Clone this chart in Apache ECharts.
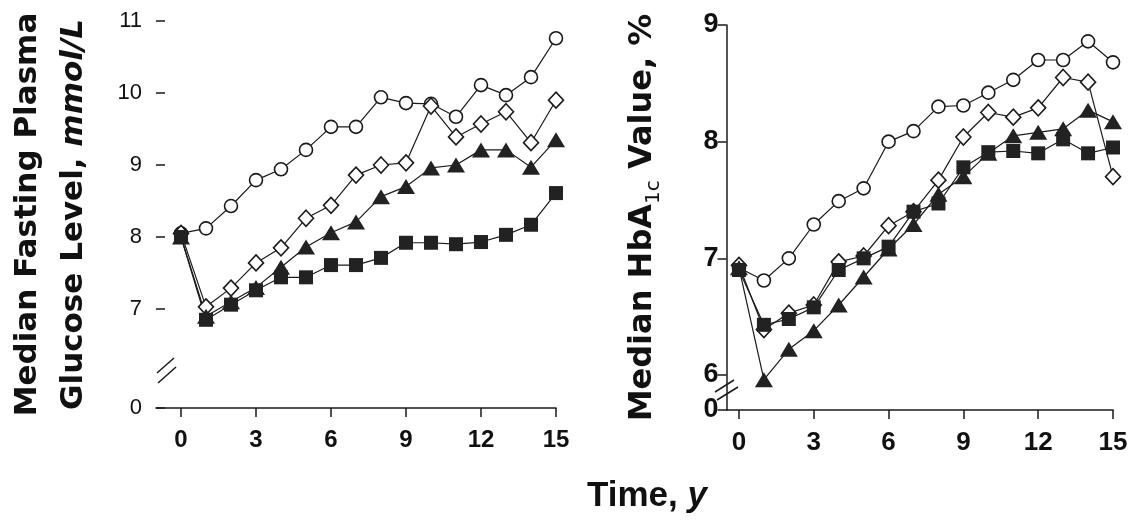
<!DOCTYPE html>
<html>
<head>
<meta charset="utf-8">
<script src="https://cdn.jsdelivr.net/npm/echarts@6/dist/echarts.min.js"></script>
<style>
  html, body { margin: 0; padding: 0; background: #fff; }
  #chart { width: 1141px; height: 525px; }
</style>
</head>
<body>
<div id="chart"></div>
<script>
// years since randomisation
var years = [0, 1, 2, 3, 4, 5, 6, 7, 8, 9, 10, 11, 12, 13, 14, 15];
var xTicks = [0, 3, 6, 9, 12, 15];

// left panel: median fasting plasma glucose, mmol/L
var glucoseCircle   = [8.05, 8.12, 8.43, 8.79, 8.94, 9.21, 9.53, 9.53, 9.94, 9.86, 9.85, 9.67, 10.11, 9.97, 10.22, 10.76];
var glucoseDiamond  = [8.05, 7.03, 7.29, 7.64, 7.85, 8.26, 8.44, 8.86, 9.0, 9.03, 9.82, 9.39, 9.57, 9.74, 9.31, 9.9];
var glucoseTriangle = [8.0, 6.9, 7.1, 7.3, 7.58, 7.86, 8.06, 8.21, 8.56, 8.7, 8.96, 9.0, 9.21, 9.21, 8.97, 9.35];
var glucoseSquare   = [8.0, 6.85, 7.06, 7.26, 7.44, 7.44, 7.61, 7.61, 7.71, 7.92, 7.92, 7.9, 7.93, 8.03, 8.17, 8.61];
var glucoseTicks = [5.625, 7, 8, 9, 10, 11];   // 5.625 is where the broken axis shows "0"

// right panel: median HbA1c, %
var hba1cCircle   = [6.92, 6.81, 7.0, 7.29, 7.49, 7.6, 8.0, 8.09, 8.3, 8.31, 8.42, 8.53, 8.7, 8.7, 8.86, 8.68];
var hba1cDiamond  = [6.94, 6.39, 6.53, 6.6, 6.97, 7.02, 7.28, 7.4, 7.67, 8.04, 8.25, 8.21, 8.29, 8.55, 8.51, 7.7];
var hba1cTriangle = [6.92, 5.96, 6.22, 6.38, 6.6, 6.84, 7.08, 7.29, 7.55, 7.7, 7.9, 8.05, 8.08, 8.11, 8.27, 8.17];
var hba1cSquare   = [6.9, 6.43, 6.48, 6.58, 6.9, 7.0, 7.1, 7.4, 7.47, 7.78, 7.91, 7.92, 7.9, 8.02, 7.9, 7.95];
var hba1cTicks = [5.7, 6, 7, 8, 9];

function pairs(vals) {
    var out = [];
    for (var i = 0; i < years.length; i++) {
        out.push([years[i], vals[i]]);
    }
    return out;
}

var ink = '#1a1a1a';
var font = 'Liberation Sans, Arial, sans-serif';
var wide = 'DejaVu Sans, Liberation Sans, sans-serif';

function mkSeries(name, vals, idx, symbol, size, filled) {
    return {
        name: name,
        type: 'line',
        xAxisIndex: idx,
        yAxisIndex: idx,
        data: pairs(vals),
        symbol: symbol,
        symbolSize: size,
        showAllSymbol: true,
        lineStyle: { color: ink, width: 1.2 },
        itemStyle: {
            color: filled ? '#222' : '#fff',
            borderColor: ink,
            borderWidth: filled ? 0 : 1.6
        },
        emphasis: { disabled: true },
        animation: false
    };
}

function xAx(idx, min, max, fs) {
    return {
        type: 'value',
        gridIndex: idx,
        min: min,
        max: max,
        splitLine: { show: false },
        axisLine: { onZero: false, lineStyle: { color: ink, width: 1.5 } },
        axisTick: { show: true, length: 9, lineStyle: { color: ink, width: 1.5 }, customValues: xTicks },
        axisLabel: { customValues: xTicks, margin: 20, fontSize: fs, fontWeight: 'bold', color: '#111', fontFamily: font }
    };
}

var chart = echarts.init(document.getElementById('chart'));

var option = {
    backgroundColor: '#fff',
    title: {
        text: '{b|Time, }{i|y}',
        left: 582,
        top: 474,
        textStyle: {
            rich: {
                b: { fontSize: 35, fontWeight: 'bold', color: '#111', fontFamily: font },
                i: { fontSize: 35, fontWeight: 'bold', fontStyle: 'italic', color: '#111', fontFamily: font }
            }
        }
    },
    grid: [
        { left: 156, top: 21, width: 400, height: 387, containLabel: false, outerBoundsMode: 'none' },
        { left: 726.5, top: 25, width: 386.5, height: 385, containLabel: false, outerBoundsMode: 'none' }
    ],
    xAxis: [
        xAx(0, -1, 15, 24),
        xAx(1, -0.5, 15, 26)
    ],
    yAxis: [
        {
            type: 'value',
            gridIndex: 0,
            min: 5.625,
            max: 11,
            splitLine: { show: false },
            axisLine: { show: false, onZero: false },
            axisTick: { show: true, inside: true, length: 9, lineStyle: { color: ink, width: 1.5 }, customValues: glucoseTicks },
            axisLabel: {
                customValues: glucoseTicks,
                margin: 14,
                fontSize: 22,
                color: '#111',
                fontFamily: font,
                formatter: function (v) { return v < 6 ? '0' : String(v); }
            },
            name: '{a|Median Fasting Plasma}\n{a|Glucose Level, }{i|mmol/L}',
            nameLocation: 'middle',
            nameGap: 59,
            nameMoveOverlap: false,
            nameTextStyle: {
                lineHeight: 46,
                rich: {
                    a: { fontSize: 31, fontWeight: 'bold', color: '#111', fontFamily: wide, lineHeight: 46 },
                    i: { fontSize: 31, fontWeight: 'bold', fontStyle: 'italic', color: '#111', fontFamily: wide, lineHeight: 46 }
                }
            }
        },
        {
            type: 'value',
            gridIndex: 1,
            min: 5.7,
            max: 9,
            splitLine: { show: false },
            axisLine: { show: true, onZero: false, lineStyle: { color: ink, width: 1.5 } },
            axisTick: { show: true, length: 9, lineStyle: { color: ink, width: 1.5 }, customValues: hba1cTicks },
            axisLabel: {
                customValues: hba1cTicks,
                margin: 8,
                fontSize: 27,
                fontWeight: 'bold',
                color: '#111',
                fontFamily: font,
                formatter: function (v) { return v < 5.9 ? '0' : String(v); }
            },
            name: '{a|Median HbA}{s|1c}{a| Value, %}',
            nameLocation: 'middle',
            nameGap: 68,
            nameMoveOverlap: false,
            nameTextStyle: {
                rich: {
                    a: { fontSize: 32, fontWeight: 'bold', color: '#111', fontFamily: wide, lineHeight: 40, verticalAlign: 'bottom' },
                    s: { fontSize: 20, color: '#111', fontFamily: wide, lineHeight: 40, verticalAlign: 'bottom', padding: [0, 0, -5, 0] }
                }
            }
        }
    ],
    series: [
        mkSeries('circle', glucoseCircle, 0, 'circle', 13, false),
        mkSeries('diamond', glucoseDiamond, 0, 'diamond', [15, 16], false),
        mkSeries('triangle', glucoseTriangle, 0, 'triangle', [18, 15], true),
        mkSeries('square', glucoseSquare, 0, 'rect', 14, true),
        mkSeries('circle', hba1cCircle, 1, 'circle', 13, false),
        mkSeries('diamond', hba1cDiamond, 1, 'diamond', [15, 16], false),
        mkSeries('triangle', hba1cTriangle, 1, 'triangle', [18, 15], true),
        mkSeries('square', hba1cSquare, 1, 'rect', 14, true)
    ],
    graphic: [
        // axis break marks
        { type: 'line', shape: { x1: 157, y1: 373, x2: 174, y2: 358 }, style: { stroke: ink, lineWidth: 1.5 } },
        { type: 'line', shape: { x1: 158, y1: 383, x2: 176, y2: 367 }, style: { stroke: ink, lineWidth: 1.5 } },
        { type: 'rect', shape: { x: 723, y: 384, width: 8, height: 8 }, style: { fill: '#fff' } },
        { type: 'line', shape: { x1: 715, y1: 392, x2: 734, y2: 380 }, style: { stroke: ink, lineWidth: 1.5 } },
        { type: 'line', shape: { x1: 717, y1: 400, x2: 738, y2: 387 }, style: { stroke: ink, lineWidth: 1.5 } }
    ]
};

chart.setOption(option);
</script>
</body>
</html>
